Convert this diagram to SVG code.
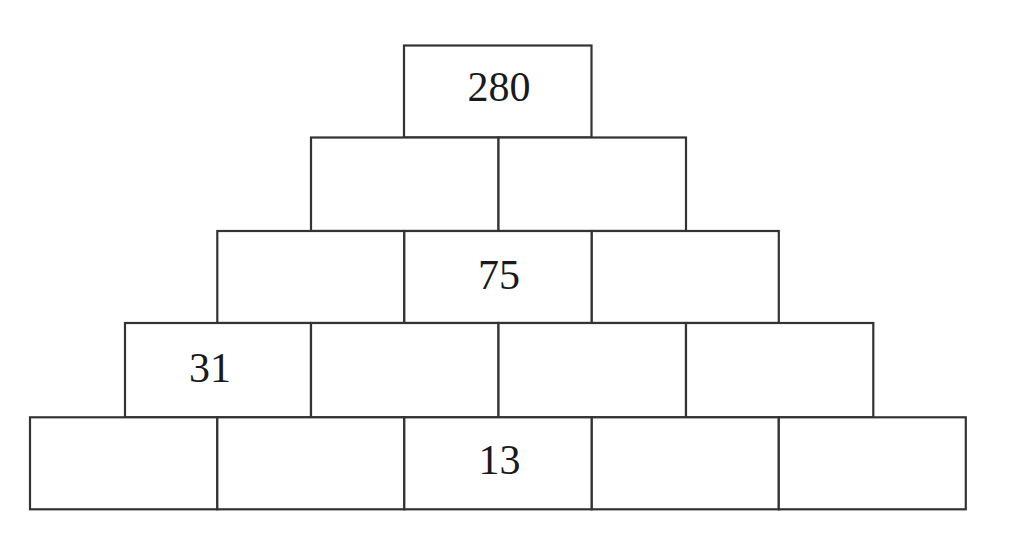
<svg xmlns="http://www.w3.org/2000/svg" width="1019" height="542" viewBox="0 0 1019 542">
<style>
.cell{fill:#fff;stroke:#333;stroke-width:2.2}
.num{font-family:"Liberation Serif","Times New Roman",serif;font-size:42px;fill:#1a1a1a;text-anchor:middle}
</style>
<rect width="1019" height="542" fill="#fff"/>
<g id="row1">
<g id="r1c1"><rect class="cell" x="404" y="45.5" width="187.5" height="92"/><text class="num" x="499" y="101">280</text></g>
</g>
<g id="row2">
<g id="r2c1"><rect class="cell" x="311" y="137.5" width="187.5" height="93.5"/></g>
<g id="r2c2"><rect class="cell" x="498.5" y="137.5" width="187.5" height="93.5"/></g>
</g>
<g id="row3">
<g id="r3c1"><rect class="cell" x="217.3" y="231" width="187" height="92"/></g>
<g id="r3c2"><rect class="cell" x="404.3" y="231" width="187.5" height="92"/><text class="num" x="499" y="288.5">75</text></g>
<g id="r3c3"><rect class="cell" x="591.8" y="231" width="187" height="92"/></g>
</g>
<g id="row4">
<g id="r4c1"><rect class="cell" x="125" y="323" width="186" height="94.3"/><text class="num" x="210" y="381.5">31</text></g>
<g id="r4c2"><rect class="cell" x="311" y="323" width="187.5" height="94.3"/></g>
<g id="r4c3"><rect class="cell" x="498.5" y="323" width="187.5" height="94.3"/></g>
<g id="r4c4"><rect class="cell" x="686" y="323" width="187.3" height="94.3"/></g>
</g>
<g id="row5">
<g id="r5c1"><rect class="cell" x="30" y="417.3" width="187.3" height="92"/></g>
<g id="r5c2"><rect class="cell" x="217.3" y="417.3" width="187" height="92"/></g>
<g id="r5c3"><rect class="cell" x="404.3" y="417.3" width="187.5" height="92"/><text class="num" x="499.5" y="473.5">13</text></g>
<g id="r5c4"><rect class="cell" x="591.8" y="417.3" width="187" height="92"/></g>
<g id="r5c5"><rect class="cell" x="778.8" y="417.3" width="187" height="92"/></g>
</g>
<g id="connectors"/>
</svg>
